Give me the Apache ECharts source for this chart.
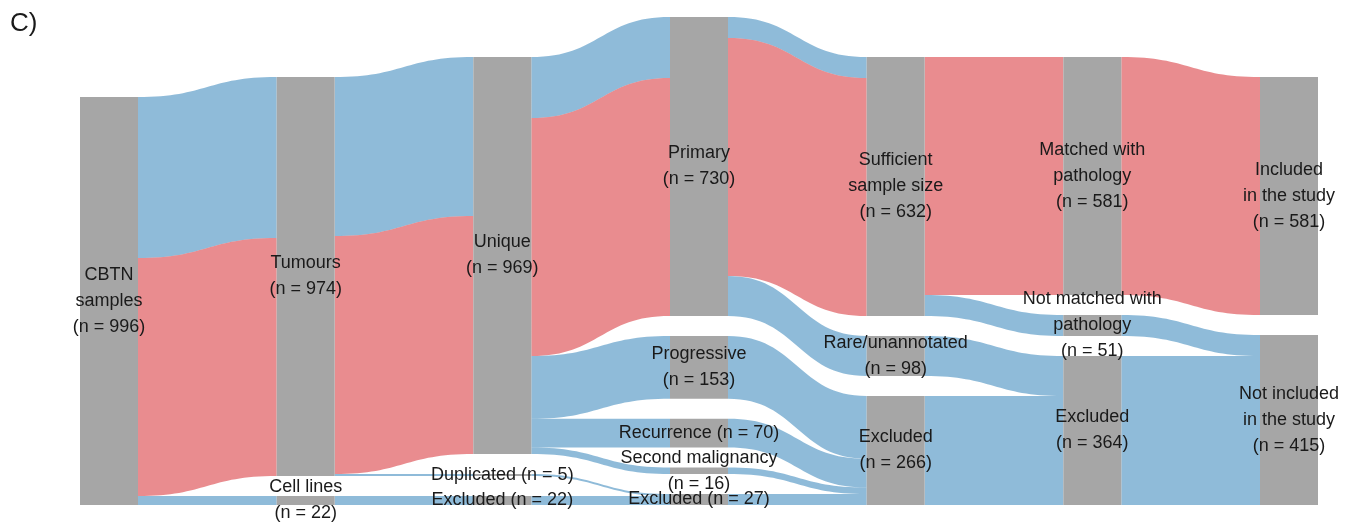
<!DOCTYPE html>
<html>
<head>
<meta charset="utf-8">
<title>CBTN sample flow</title>
<script src="https://cdn.jsdelivr.net/npm/echarts@6/dist/echarts.min.js"></script>
<style>
  html, body { margin: 0; padding: 0; background: #fff; }
  #chart { width: 1354px; height: 531px; }
</style>
</head>
<body>
<div id="chart"></div>
<script>
  // nodes (column by column, top to bottom)
  var nodeNames = [
    'cbtn',
    'tumours', 'cellLines',
    'unique', 'duplicated', 'excluded22',
    'primary', 'progressive', 'recurrence', 'second', 'excluded27',
    'sufficient', 'rare', 'excluded266',
    'matched', 'notMatched', 'excluded364',
    'included', 'notIncluded'
  ];
  var nodeColumn = [0, 1, 1, 2, 2, 2, 3, 3, 3, 3, 3, 4, 4, 4, 5, 5, 5, 6, 6];
  var nodeLabels = [
    'CBTN\nsamples\n(n = 996)',
    'Tumours\n(n = 974)', 'Cell lines\n(n = 22)',
    'Unique\n(n = 969)', 'Duplicated (n = 5)', 'Excluded (n = 22)',
    'Primary\n(n = 730)', 'Progressive\n(n = 153)', 'Recurrence (n = 70)', 'Second malignancy\n(n = 16)', 'Excluded (n = 27)',
    'Sufficient\nsample size\n(n = 632)', 'Rare/unannotated\n(n = 98)', 'Excluded\n(n = 266)',
    'Matched with\npathology\n(n = 581)', 'Not matched with\npathology\n(n = 51)', 'Excluded\n(n = 364)',
    'Included\nin the study\n(n = 581)', 'Not included\nin the study\n(n = 415)'
  ];

  // links: red = ends in the study, blue = does not
  var linkSource = ['cbtn', 'cbtn', 'cbtn',
    'tumours', 'tumours', 'tumours', 'cellLines',
    'unique', 'unique', 'unique', 'unique', 'unique', 'duplicated', 'excluded22',
    'primary', 'primary', 'primary', 'progressive', 'recurrence', 'second', 'excluded27',
    'sufficient', 'sufficient', 'rare', 'excluded266',
    'matched', 'notMatched', 'excluded364'];
  var linkTarget = ['tumours', 'tumours', 'cellLines',
    'unique', 'unique', 'duplicated', 'excluded22',
    'primary', 'primary', 'progressive', 'recurrence', 'second', 'excluded27', 'excluded27',
    'sufficient', 'sufficient', 'rare', 'excluded266', 'excluded266', 'excluded266', 'excluded266',
    'matched', 'notMatched', 'excluded364', 'excluded364',
    'included', 'notIncluded', 'notIncluded'];
  var linkValue = [393, 581, 22,
    388, 581, 5, 22,
    149, 581, 153, 70, 16, 5, 22,
    51, 581, 98, 153, 70, 16, 27,
    581, 51, 98, 266,
    581, 51, 364];
  var linkGroup = ['out', 'in', 'out',
    'out', 'in', 'out', 'out',
    'out', 'in', 'out', 'out', 'out', 'out', 'out',
    'out', 'in', 'out', 'out', 'out', 'out', 'out',
    'in', 'out', 'out', 'out',
    'in', 'out', 'out'];

  var groupColor = { 'in': '#d3191f', 'out': '#1f77b4' };

  // layout box of the series
  var W = 1354, H = 531;
  var box = { left: 80, right: 36, top: 17, bottom: 26 };
  var nodeGap = 20;
  var plotH = H - box.top - box.bottom;

  // node value = max(in, out), same rule as the sankey layout
  var inSum = {}, outSum = {};
  linkSource.forEach(function (s, i) {
    outSum[s] = (outSum[s] || 0) + linkValue[i];
    inSum[linkTarget[i]] = (inSum[linkTarget[i]] || 0) + linkValue[i];
  });
  var nodeValue = nodeNames.map(function (n) {
    return Math.max(inSum[n] || 0, outSum[n] || 0);
  });

  // same vertical scale echarts uses, then stack each column from the bottom
  var cols = {};
  nodeNames.forEach(function (n, i) {
    (cols[nodeColumn[i]] = cols[nodeColumn[i]] || []).push(i);
  });
  var ky = Infinity;
  Object.keys(cols).forEach(function (c) {
    var sum = 0;
    cols[c].forEach(function (i) { sum += nodeValue[i]; });
    ky = Math.min(ky, (plotH - (cols[c].length - 1) * nodeGap) / sum);
  });
  var localY = [];
  Object.keys(cols).forEach(function (c) {
    var yb = plotH;
    cols[c].slice().reverse().forEach(function (i) {
      var y = yb - nodeValue[i] * ky;
      localY[i] = y / plotH;
      yb = y - nodeGap;
    });
  });

  var nodes = nodeNames.map(function (n, i) {
    return { name: n, localY: localY[i], label: { formatter: nodeLabels[i] } };
  });
  var links = linkSource.map(function (s, i) {
    return {
      source: s,
      target: linkTarget[i],
      value: linkValue[i],
      lineStyle: { color: groupColor[linkGroup[i]], opacity: 0.5 }
    };
  });

  var chart = echarts.init(document.getElementById('chart'));
  chart.setOption({
    animation: false,
    title: {
      text: 'C)',
      left: 5,
      top: 6,
      textStyle: { fontSize: 26, fontWeight: 'normal', color: '#1a1a1a', fontFamily: 'Liberation Sans' }
    },
    series: [{
      type: 'sankey',
      left: box.left,
      right: box.right,
      top: box.top,
      bottom: box.bottom,
      nodeWidth: 58,
      nodeGap: nodeGap,
      layoutIterations: 0,
      draggable: false,
      data: nodes,
      links: links,
      itemStyle: { color: '#a6a6a6', borderWidth: 0 },
      lineStyle: { curveness: 0.5 },
      label: {
        position: 'inside',
        color: '#1a1a1a',
        fontSize: 18,
        lineHeight: 26,
        fontFamily: 'Liberation Sans',
        align: 'center'
      },
      emphasis: { disabled: true }
    }]
  });
</script>
</body>
</html>
